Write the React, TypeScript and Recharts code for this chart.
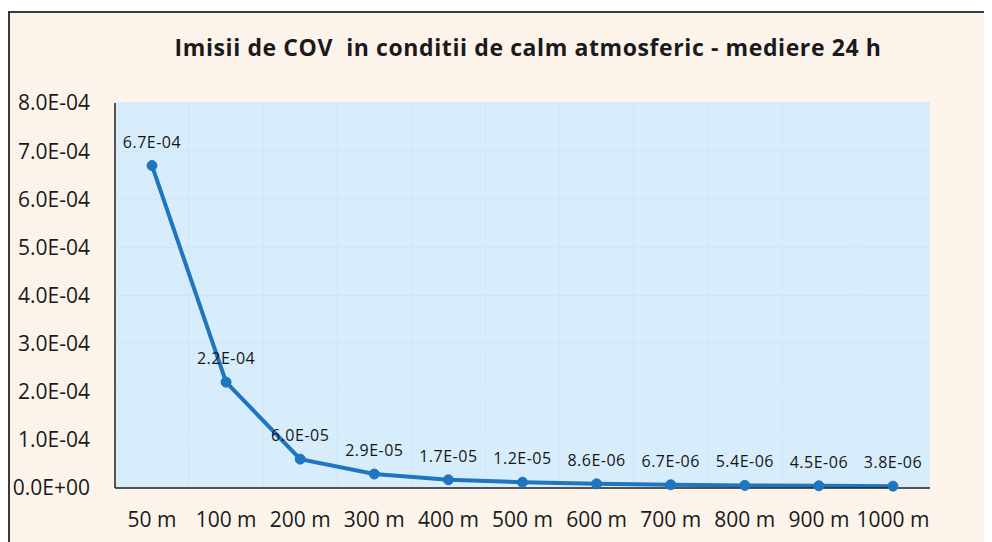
import { LineChart, Line, XAxis, YAxis, CartesianGrid, LabelList } from "recharts";

const distances = ["50 m", "100 m", "200 m", "300 m", "400 m", "500 m", "600 m", "700 m", "800 m", "900 m", "1000 m"];
const imisii = [6.7e-4, 2.2e-4, 6.0e-5, 2.9e-5, 1.7e-5, 1.2e-5, 8.6e-6, 6.7e-6, 5.4e-6, 4.5e-6, 3.8e-6];
const yTicks = [0, 1e-4, 2e-4, 3e-4, 4e-4, 5e-4, 6e-4, 7e-4, 8e-4];

const data = distances.map((d, i) => ({ dist: d, value: imisii[i] }));

// 6.7e-4 -> "6.7E-04"
function sci(v: number) {
  const [m, e] = v.toExponential(1).split("e");
  const n = parseInt(e, 10);
  const sign = n < 0 ? "-" : "+";
  return `${m}E${sign}${String(Math.abs(n)).padStart(2, "0")}`;
}

const FONT = "'Open Sans', sans-serif";

export default function App() {
  return (
    <div
      style={{
        position: "relative",
        marginTop: 3,
        width: 982,
        height: 529,
        borderTop: "2px solid #3a3a3a",
        borderLeft: "2px solid #3a3a3a",
        background: "#fcf4eb",
        fontFamily: FONT,
      }}
    >
      <div
        style={{
          position: "absolute",
          left: 0,
          width: 1036,
          top: 18,
          textAlign: "center",
          fontSize: 23,
          letterSpacing: 0.6,
          fontWeight: 700,
          color: "#1a1a1a",
        }}
      >
        Imisii de COV&nbsp; in conditii de calm atmosferic - mediere 24 h
      </div>
      <LineChart
        width={982}
        height={529}
        data={data}
        margin={{ top: 90, right: 62, bottom: 14, left: 0 }}
      >
        <CartesianGrid
          fill="#d8edfb"
          stroke="#cee6f7"
          strokeWidth={1}
          verticalCoordinatesGenerator={({ offset }: any) =>
            distances.map((_, i) => offset.left + (i * offset.width) / distances.length)
          }
        />
        <XAxis
          dataKey="dist"
          height={40}
          padding={{ left: 37, right: 37 }}
          axisLine={{ stroke: "#222", strokeWidth: 1.5 }}
          tickLine={false}
          tickSize={0}
          tickMargin={24}
          tick={{ fontSize: 21, fill: "#1a1a1a", fontFamily: FONT }}
          interval={0}
        />
        <YAxis
          width={105}
          domain={[0, 8e-4]}
          ticks={yTicks}
          tickFormatter={sci}
          axisLine={{ stroke: "#222", strokeWidth: 1.5 }}
          tickLine={false}
          tickSize={0}
          tickMargin={25}
          tick={{ fontSize: 21, fill: "#1a1a1a", fontFamily: FONT }}
        />
        <Line
          type="linear"
          dataKey="value"
          stroke="#1d76bf"
          strokeWidth={4}
          dot={{ r: 5, fill: "#1d76bf", stroke: "#1d76bf", strokeWidth: 1 }}
          isAnimationActive={false}
        >
          <LabelList
            dataKey="value"
            position="top"
            offset={18}
            formatter={(v: any) => sci(Number(v))}
            style={{ fontSize: 16, letterSpacing: 0.5, fill: "#161616", fontFamily: FONT }}
          />
        </Line>
      </LineChart>
    </div>
  );
}
